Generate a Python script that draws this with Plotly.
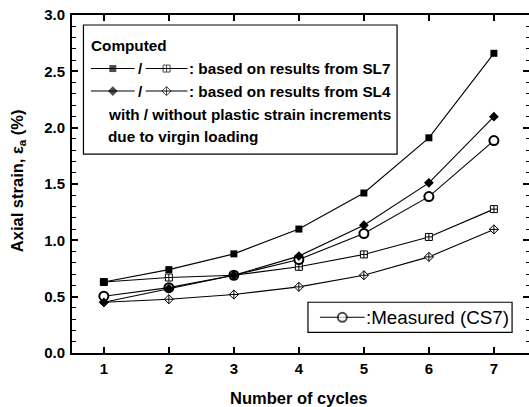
import plotly.graph_objects as go

# ---------------- data ----------------
cycles = [1, 2, 3, 4, 5, 6, 7]
sl7_with = [0.63, 0.74, 0.88, 1.10, 1.42, 1.91, 2.66]
sl7_without = [0.63, 0.67, 0.69, 0.765, 0.875, 1.03, 1.277]
sl4_with = [0.45, 0.572, 0.69, 0.86, 1.134, 1.51, 2.098]
sl4_without = [0.45, 0.477, 0.519, 0.587, 0.69, 0.853, 1.097]
measured_cs7 = [0.504, 0.58, 0.69, 0.83, 1.06, 1.388, 1.885]

y_ticks = [0.0, 0.5, 1.0, 1.5, 2.0, 2.5, 3.0]

FONT = "Liberation Sans, Arial, sans-serif"
BLACK = "black"

fig = go.Figure()

def series(y, symbol, size, fill, lw=1.0):
    fig.add_trace(go.Scatter(
        x=cycles, y=y, mode="lines+markers",
        line=dict(color=BLACK, width=1.1),
        marker=dict(symbol=symbol, size=size, color=fill,
                    line=dict(color=BLACK, width=lw)),
        showlegend=False, cliponaxis=False))

series(sl7_without, "square-cross", 7, "white", 1.0)
series(sl4_without, "diamond-cross", 7, "white", 1.0)
series(measured_cs7, "circle", 9, "white", 2.0)
series(sl7_with, "square", 7, BLACK, 0)
series(sl4_with, "diamond", 7.5, BLACK, 0)

# ------------- legend samples (pixel-coordinate overlay axes) -------------
def sample(x0, x1, y, symbol, size, fill, lw):
    xm = (x0 + x1) / 2
    fig.add_trace(go.Scatter(
        x=[x0, xm, x1], y=[y, y, y], mode="lines+markers",
        xaxis="x2", yaxis="y2",
        line=dict(color=BLACK, width=1.1),
        marker=dict(symbol=symbol, size=[0, size, 0], color=fill,
                    line=dict(color=BLACK, width=lw)),
        showlegend=False, cliponaxis=False, hoverinfo="skip"))

sample(91, 135, 68.5, "square", 7, BLACK, 0)
sample(146, 188, 68.5, "square-cross", 7, "white", 1.0)
sample(91, 135, 91, "diamond", 7.5, BLACK, 0)
sample(146, 188, 91, "diamond-cross", 7, "white", 1.0)
sample(321, 366, 317, "circle", 9, "white", 2.0)

fig.add_shape(type="rect", xref="x2", yref="y2", x0=83.5, x1=398.5, y0=25, y1=154,
              line=dict(color=BLACK, width=1.2), fillcolor="white", layer="below")
fig.add_shape(type="rect", xref="x2", yref="y2", x0=309, x1=514, y0=302, y1=332,
              line=dict(color=BLACK, width=1.2), fillcolor="white", layer="below")

def label(x, y, text, size=15.3, weight="bold"):
    fig.add_annotation(xref="x2", yref="y2", x=x, y=y, text=text, showarrow=False,
                       xanchor="left", yanchor="middle",
                       font=dict(family=FONT, size=size, color=BLACK, weight=weight))

label(89, 45, "Computed")
label(136, 68.5, "/")
label(188, 68.5, ": based on results from SL7")
label(136, 91, "/")
label(188, 91, ": based on results from SL4")
label(106, 114, "with / without plastic strain increments")
label(106, 136.5, "due to virgin loading")
label(365, 317, ":Measured (CS7)", size=18.8, weight="normal")

# axis titles
fig.add_annotation(xref="paper", yref="paper", x=(300 - 72) / 459, y=0, yshift=-44.5,
                   text="Number of cycles",
                   showarrow=False, xanchor="center", yanchor="middle",
                   font=dict(family=FONT, size=16.5, color=BLACK, weight="bold"))
fig.add_annotation(xref="paper", yref="y2", x=0, xshift=-54, y=181,
                   text="Axial strain, ε<sub>a</sub> (%)", textangle=-90,
                   showarrow=False, xanchor="center", yanchor="middle",
                   font=dict(family=FONT, size=16.5, color=BLACK, weight="bold"))

axis_common = dict(showgrid=False, zeroline=False, showline=True, linecolor=BLACK,
                   linewidth=2, ticks="inside", tickcolor=BLACK, tickwidth=1.5,
                   ticklen=6, mirror="ticks",
                   tickfont=dict(family=FONT, size=15, color=BLACK, weight="bold"))

fig.update_layout(
    width=533, height=407,
    margin=dict(l=72, r=2, t=15, b=54.3),
    paper_bgcolor="white", plot_bgcolor="white",
    xaxis=dict(range=[0.51, 7.54], tickvals=cycles, ticklabelstandoff=1, **axis_common),
    yaxis=dict(range=[0, 3.0], tickvals=y_ticks, tickformat=".1f", ticklabelstandoff=2,
               minor=dict(dtick=0.1, ticks="inside", ticklen=3.5, tickcolor=BLACK, tickwidth=1.2),
               **axis_common),
    xaxis2=dict(overlaying="x", anchor="y2", range=[72, 531], visible=False, fixedrange=True),
    yaxis2=dict(overlaying="y", anchor="x2", range=[352.7, 15], visible=False, fixedrange=True),
)

fig.write_html("out.html")
